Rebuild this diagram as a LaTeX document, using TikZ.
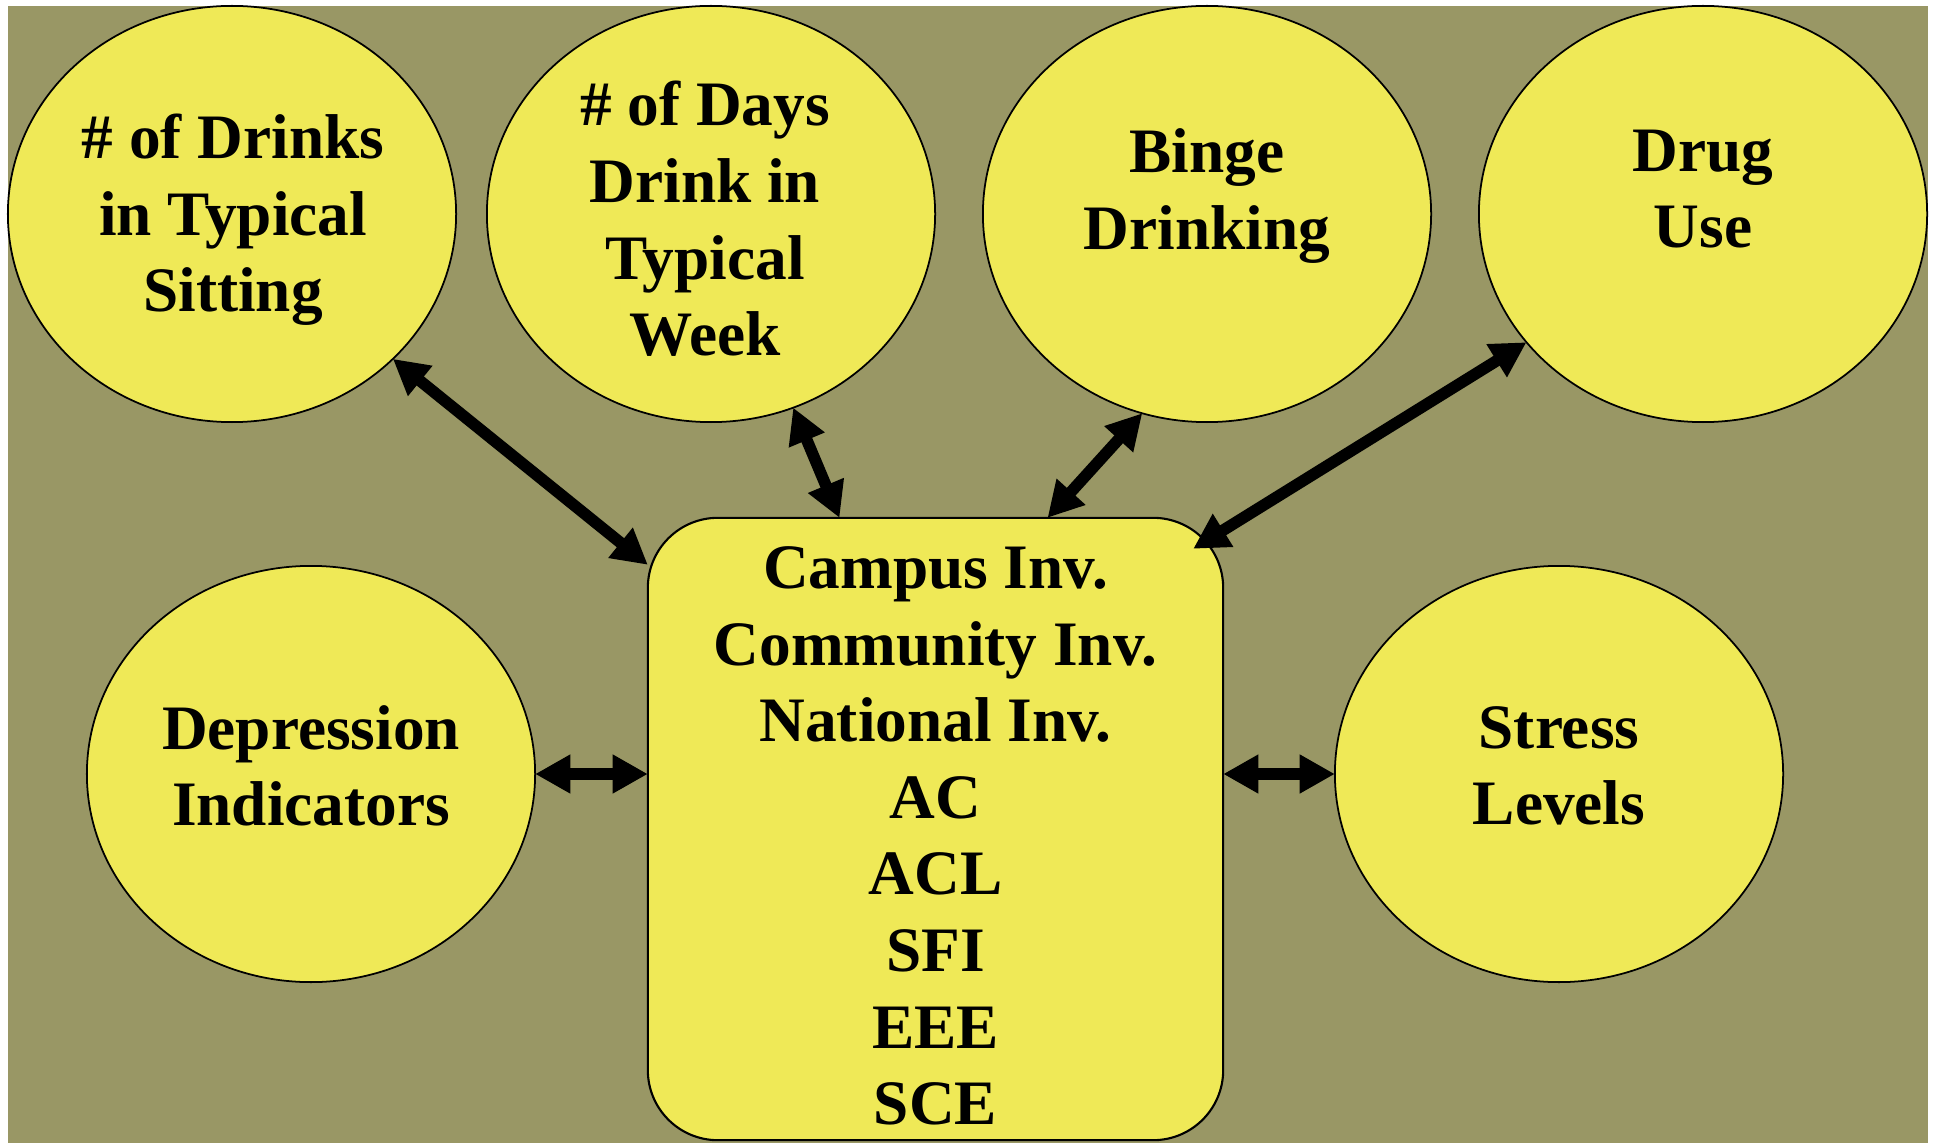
\documentclass[tikz,border=0pt]{standalone}
\usepackage{fontspec}
\setmainfont{Liberation Serif}
\usetikzlibrary{shapes.geometric,arrows.meta,calc}
\definecolor{olivebg}{RGB}{153,151,101}
\definecolor{yellowfill}{RGB}{239,233,87}
\begin{document}
\begin{tikzpicture}[x=0.01cm,y=-0.01cm,
  oval/.style={ellipse,draw=black,line width=0.5pt,fill=yellowfill,minimum width=4.48cm,minimum height=4.16cm,inner sep=0pt,outer sep=0pt},
  centerbox/.style={draw=black,line width=0.6pt,fill=yellowfill,rounded corners=0.7cm,minimum width=5.75cm,minimum height=6.22cm,inner sep=0pt,outer sep=0pt},
  lbl/.style={align=center,font=\bfseries\fontsize{18}{21.8}\selectfont,inner sep=0pt},
  link/.style={line width=3.3pt,{Triangle[length=10pt,width=10.4pt]}-{Triangle[length=10pt,width=10.4pt]}}]
\useasboundingbox (0,0) rectangle (1937,1143);
\fill[olivebg] (8,6) rectangle (1928,1143);
\node[oval] (drinks) at (232,214) {};
\node[oval] (days) at (711,214) {};
\node[oval] (binge) at (1207,214) {};
\node[oval] (drug) at (1703,214) {};
\node[oval] (dep) at (311,774) {};
\node[oval] (stress) at (1559,774) {};
\node[centerbox] (box) at (935.5,829) {};
\node[lbl] (drinksT) at (233,220) {\# of Drinks\\in Typical\\Sitting};
\node[lbl] (daysT) at (705,219) {\# of Days\\Drink in\\Typical\\Week};
\node[lbl] (bingeT) at (1207,196) {Binge\\Drinking};
\node[lbl] (drugT) at (1703,189) {Drug\\Use};
\node[lbl] (depT) at (311,766) {Depression\\Indicators};
\node[lbl] (stressT) at (1559,766) {Stress\\Levels};
\node[lbl] (boxT) at (935.5,836) {Campus Inv.\\Community Inv.\\National Inv.\\AC\\ACL\\SFI\\EEE\\SCE};
\draw[link] (drinks.-42) -- ($(box.north west)+(0,47)$);
\draw[link] (days.-67) -- ($(box.north)+(-96,0)$);
\draw[link] (binge.-108) -- ($(box.north)+(112,0)$);
\draw[link] (drug.216) -- ($(box.north east)+(-30,31)$);
\draw[link] (dep.east) -- (dep.east -| box.west);
\draw[link] (stress.west) -- (stress.west -| box.east);
\end{tikzpicture}
\end{document}
